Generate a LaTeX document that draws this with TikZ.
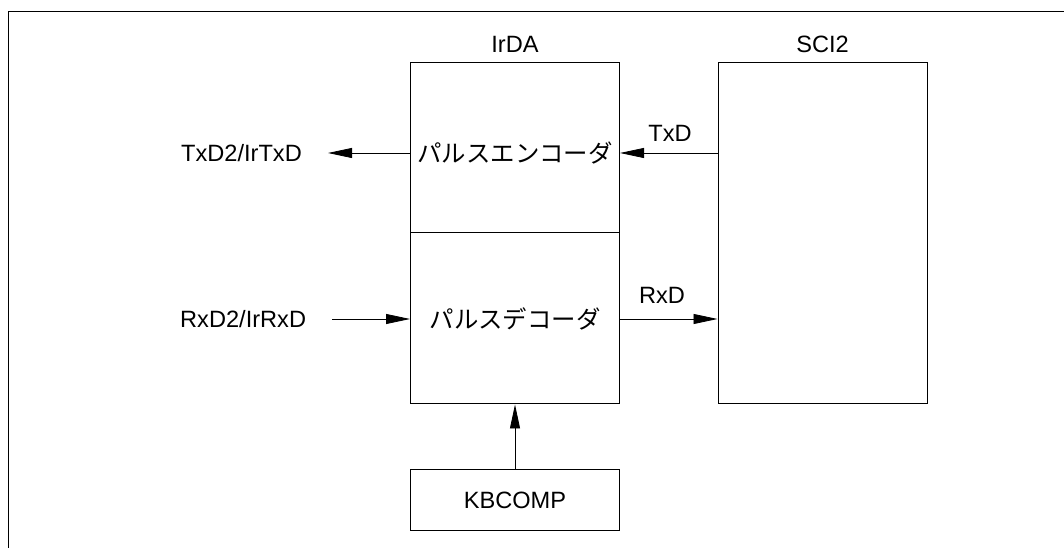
\documentclass[tikz,border=0pt]{standalone}
\usepackage{fontspec}
\setmainfont{Liberation Sans}
\newfontfamily\jpfont{Noto Sans CJK JP}
\usetikzlibrary{arrows.meta,positioning}
\tikzset{
  blk/.style={draw, line width=1pt, minimum width=209pt, inner sep=0pt},
  sig/.style={-{Triangle[length=24pt, width=10pt]}, line width=0.8pt},
  lbl/.style={font=\fontsize{23.6}{26}\selectfont, inner sep=0pt},
  jp/.style={font=\fontsize{24.4}{27}\selectfont\jpfont, inner sep=0pt}
}

\begin{document}
\begin{tikzpicture}[x=1pt, y=1pt]
  \useasboundingbox (0,0) rectangle (1064,548);
  % frame
  \draw[line width=1pt] (8,0) -- (8,536) -- (1064,536);
  % blocks
  \node[blk, minimum height=341pt] (irda) at (515,314.5) {};
  \node[blk, minimum height=341pt] (sci) at (822.5,314.5) {};
  \node[blk, minimum height=61pt, lbl, inner sep=0pt] (kb) at (515,47.5) {KBCOMP};
  \draw[line width=1pt] ([yshift=-170pt]irda.north west) -- ([yshift=-170pt]irda.north east);
  \node[lbl, above=10pt of irda] (irdalbl) {IrDA};
  \node[lbl, above=10pt of sci] (scilbl) {SCI2};
  % texts
  \node[jp] (enc) at (515,395) {パルスエンコーダ};
  \node[jp] (dec) at (515,229) {パルスデコーダ};
  \node[lbl, anchor=west] (txout) at (181,395) {TxD2/IrTxD};
  \node[lbl, anchor=west] (rxin) at (180,229) {RxD2/IrRxD};
  \node[lbl] (txd) at (670,415) {TxD};
  \node[lbl] (rxd) at (662,253) {RxD};
  % signals
  \draw[sig] (irda.west |- enc) -- ([xshift=26pt]txout.east);
  \draw[sig] ([xshift=26pt]rxin.east) -- (irda.west |- dec);
  \draw[sig] (sci.west |- enc) -- (irda.east |- enc);
  \draw[sig] (irda.east |- dec) -- (sci.west |- dec);
  \draw[sig] (kb) -- (irda);
\end{tikzpicture}
\end{document}
